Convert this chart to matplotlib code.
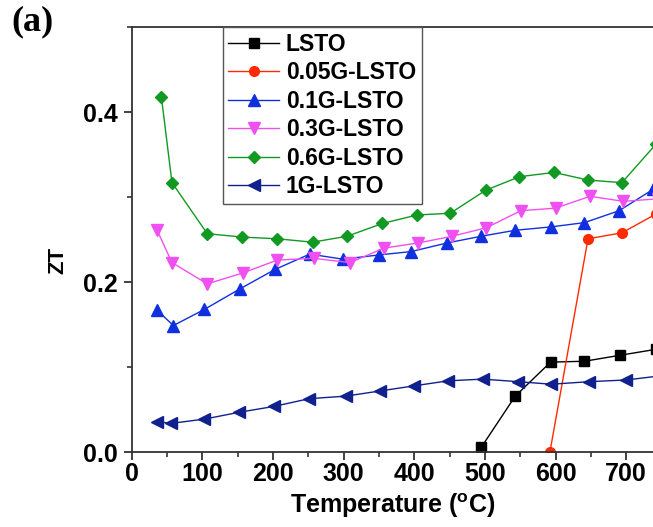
import numpy as np
import matplotlib
matplotlib.use("Agg")
import matplotlib.pyplot as plt
from matplotlib.ticker import MultipleLocator

plt.rcParams['font.family'] = ['Liberation Sans', 'DejaVu Sans']
plt.rcParams['font.weight'] = 'bold'

# ZT versus temperature for each sample
t_lsto = [495, 543, 593, 641, 691, 742]
zt_lsto = [0.006, 0.066, 0.106, 0.107, 0.114, 0.121]

t_005g = [592, 646, 694, 742]
zt_005g = [0.0, 0.251, 0.258, 0.280]

t_01g = [36, 59, 103, 153, 203, 252, 299, 350, 396, 446, 495, 543, 594, 641, 690, 738]
zt_01g = [0.167, 0.149, 0.168, 0.192, 0.215, 0.233, 0.227, 0.232, 0.236, 0.246,
          0.254, 0.261, 0.265, 0.270, 0.284, 0.309]

t_03g = [36, 57, 107, 158, 206, 258, 309, 357, 405, 454, 502, 551, 600, 649, 696, 745]
zt_03g = [0.261, 0.223, 0.198, 0.211, 0.226, 0.228, 0.223, 0.240, 0.246, 0.254,
          0.264, 0.284, 0.287, 0.301, 0.295, 0.298]

t_06g = [42, 57, 107, 156, 206, 256, 305, 355, 404, 451, 501, 549, 598, 646, 694, 742]
zt_06g = [0.418, 0.317, 0.257, 0.253, 0.251, 0.247, 0.254, 0.269, 0.279, 0.281,
          0.308, 0.324, 0.329, 0.320, 0.317, 0.362]

t_1g = [36, 56, 103, 152, 202, 251, 303, 351, 399, 448, 497, 547, 594, 648, 700, 750]
zt_1g = [0.036, 0.034, 0.039, 0.047, 0.054, 0.063, 0.066, 0.072, 0.078, 0.084,
         0.086, 0.083, 0.080, 0.083, 0.085, 0.090]

fig = plt.figure(figsize=(6.53, 5.27), dpi=100)
ax = fig.add_axes([0.2017, 0.1418, 0.7983, 0.807])

kw = dict(lw=1.0, ms=7)
ax.plot(t_lsto, zt_lsto, '-s', color='black', label='LSTO', **kw)
ax.plot(t_005g, zt_005g, '-o', color='#ff2a00', label='0.05G-LSTO', **kw)
ax.plot(t_01g, zt_01g, '-^', color='#1030e0', label='0.1G-LSTO', ms=8, lw=1.0)
ax.plot(t_03g, zt_03g, '-v', color='#f050f0', label='0.3G-LSTO', ms=8, lw=1.0)
ax.plot(t_06g, zt_06g, '-D', color='#119922', label='0.6G-LSTO', ms=6.5, lw=1.0)
ax.plot(t_1g, zt_1g, '-<', color='#10208c', label='1G-LSTO', ms=8, lw=1.0)

ax.set_xlim(0, 738)
ax.set_ylim(0, 0.5)
ax.xaxis.set_major_locator(MultipleLocator(100))
ax.xaxis.set_minor_locator(MultipleLocator(50))
ax.yaxis.set_minor_locator(MultipleLocator(0.1))
ax.set_yticks([0.0, 0.2, 0.4])
ax.set_yticklabels(['0.0', '0.2', '0.4'])

ax.spines['right'].set_visible(False)
for s in ['left', 'bottom', 'top']:
    ax.spines[s].set_linewidth(1.3)
    ax.spines[s].set_color('#333333')
ax.tick_params(which='major', direction='out', length=6, width=1.3, labelsize=18,
               color='#333333')
ax.tick_params(axis='x', which='major', pad=1)
ax.tick_params(axis='y', which='major', pad=4)
ax.tick_params(which='minor', direction='out', length=3.5, width=1.2, color='#333333')

ax.set_xlabel('Temperature ($^\\mathregular{o}$C)', fontsize=18, fontweight='bold', labelpad=4)
ax.set_ylabel('ZT', fontsize=16, fontweight='bold')
ax.yaxis.set_label_coords(-0.122, 0.452)

leg = ax.legend(loc='upper left', bbox_to_anchor=(0.1746, 1.0), borderaxespad=0,
                fontsize=16.5, handlelength=2.2, handletextpad=0.3, labelspacing=0.24,
                borderpad=0.25, fancybox=False, framealpha=1)
leg.get_frame().set_edgecolor('#555555')
leg.get_frame().set_linewidth(1.0)

fig.text(0.018, 1 - 22 / 527, '(a)', fontsize=26, fontweight='bold', family='Liberation Serif',
         va='center', ha='left')

fig.savefig('out.png', dpi=100)
